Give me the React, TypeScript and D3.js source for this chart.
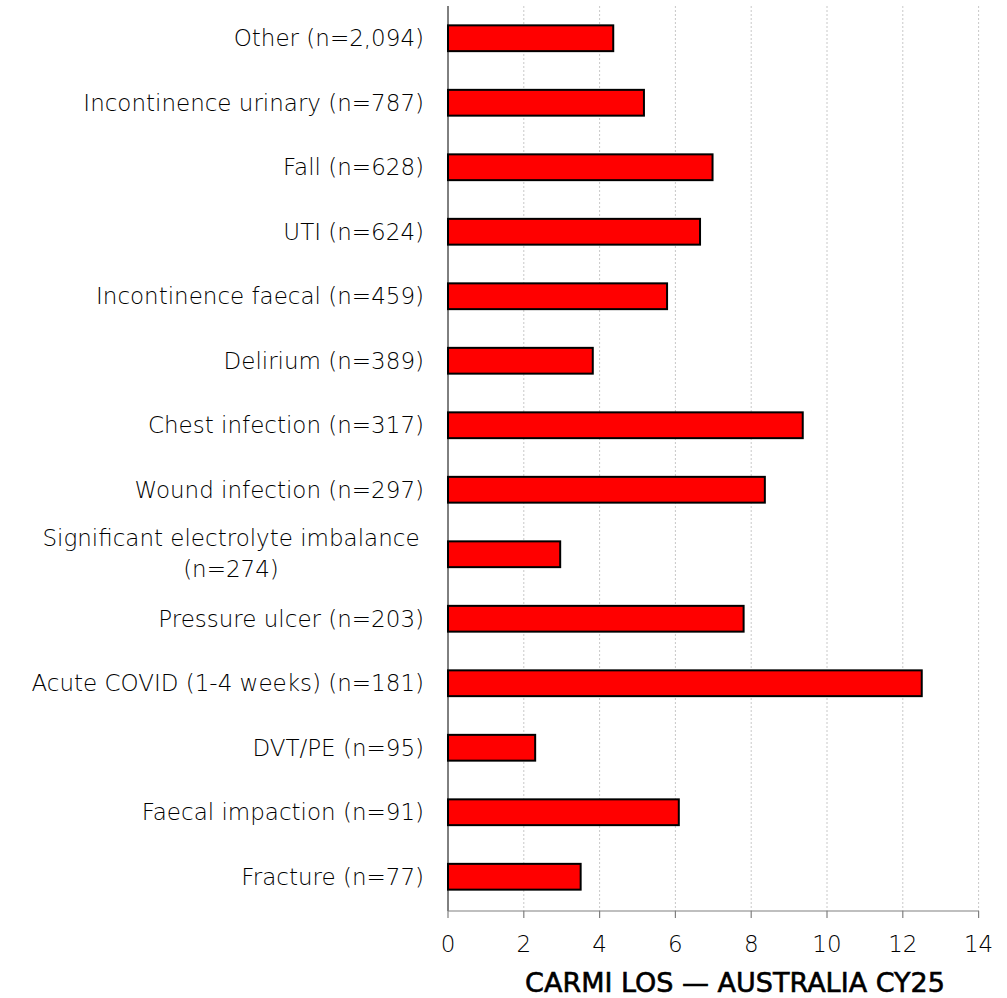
import React from "react";
import * as d3 from "d3";

const categories: string[] = [
  "Other (n=2,094)",
  "Incontinence urinary (n=787)",
  "Fall (n=628)",
  "UTI (n=624)",
  "Incontinence faecal (n=459)",
  "Delirium (n=389)",
  "Chest infection (n=317)",
  "Wound infection (n=297)",
  "Significant electrolyte imbalance|(n=274)",
  "Pressure ulcer (n=203)",
  "Acute COVID (1-4 weeks) (n=181)",
  "DVT/PE (n=95)",
  "Faecal impaction (n=91)",
  "Fracture (n=77)",
];
const values: number[] = [4.36, 5.17, 6.98, 6.65, 5.78, 3.82, 9.36, 8.36, 2.96, 7.8, 12.5, 2.3, 6.09, 3.5];
const xTicks: number[] = [0, 2, 4, 6, 8, 10, 12, 14];
const title = "CARMI LOS \u2014 AUSTRALIA CY25";

const W = 1007;
const H = 998;
const FONT = "'DejaVu Sans', sans-serif";

export default function App() {
  const x = d3.scaleLinear().domain([0, 14]).range([448, 978.6]);
  const y = d3
    .scaleBand<string>()
    .domain(categories)
    .range([6, 909])
    .paddingInner(0.6)
    .paddingOuter(0.3);
  const axisY = 911;
  return (
    <div style={{ position: "fixed", left: 0, top: 0, width: W, height: H, overflow: "hidden", background: "#fff" }}>
      <svg width={W} height={H} style={{ display: "block", background: "#fff" }}>
        {xTicks.slice(1).map((t) => (
          <line
            key={"g" + t}
            x1={x(t)}
            x2={x(t)}
            y1={6}
            y2={axisY}
            stroke="#c8c8c8"
            strokeWidth={1}
            strokeDasharray="2,2"
          />
        ))}
        {categories.map((c, i) => (
          <rect
            key={c}
            x={x(0)}
            y={y(c)}
            width={x(values[i]) - x(0)}
            height={y.bandwidth()}
            fill="#ff0000"
            stroke="#000"
            strokeWidth={2}
          />
        ))}
        <line x1={x(0)} x2={x(0)} y1={6} y2={axisY} stroke="#000" strokeWidth={1} />
        <line x1={x(0)} x2={x(14)} y1={axisY} y2={axisY} stroke="#808080" strokeWidth={1.2} />
        {xTicks.map((t) => (
          <g key={"t" + t}>
            <line x1={x(t)} x2={x(t)} y1={axisY} y2={axisY + 7} stroke="#808080" strokeWidth={1.2} />
            <text
              x={x(t)}
              y={952}
              textAnchor="middle"
              fontFamily={FONT}
              fontSize={23}
              fontWeight={300}
              fill="#000"
            >
              {t}
            </text>
          </g>
        ))}
        {categories.map((c) => {
          const lines = c.split("|");
          const cy = (y(c) as number) + y.bandwidth() / 2;
          const lh = 31;
          if (lines.length === 1) {
            return (
              <text
                key={"l" + c}
                x={424}
                y={cy}
                dy="0.35em"
                textAnchor="end"
                fontFamily={FONT}
                fontSize={23}
                fontWeight={300}
                fill="#000"
              >
                {c}
              </text>
            );
          }
          return (
            <text
              key={"l" + c}
              x={231}
              y={cy - lh / 2 - 1}
              textAnchor="middle"
              fontFamily={FONT}
              fontSize={23}
              fontWeight={300}
              fill="#000"
            >
              {lines.map((ln, j) => (
                <tspan key={j} x={231} dy={j === 0 ? "0.35em" : lh}>
                  {ln}
                </tspan>
              ))}
            </text>
          );
        })}
        <text
          x={735}
          y={992}
          textAnchor="middle"
          fontFamily={FONT}
          fontSize={27}
          fontWeight={400}
          fill="#000"
          stroke="#000"
          strokeWidth={0.6}
        >
          {title}
        </text>
      </svg>
    </div>
  );
}
